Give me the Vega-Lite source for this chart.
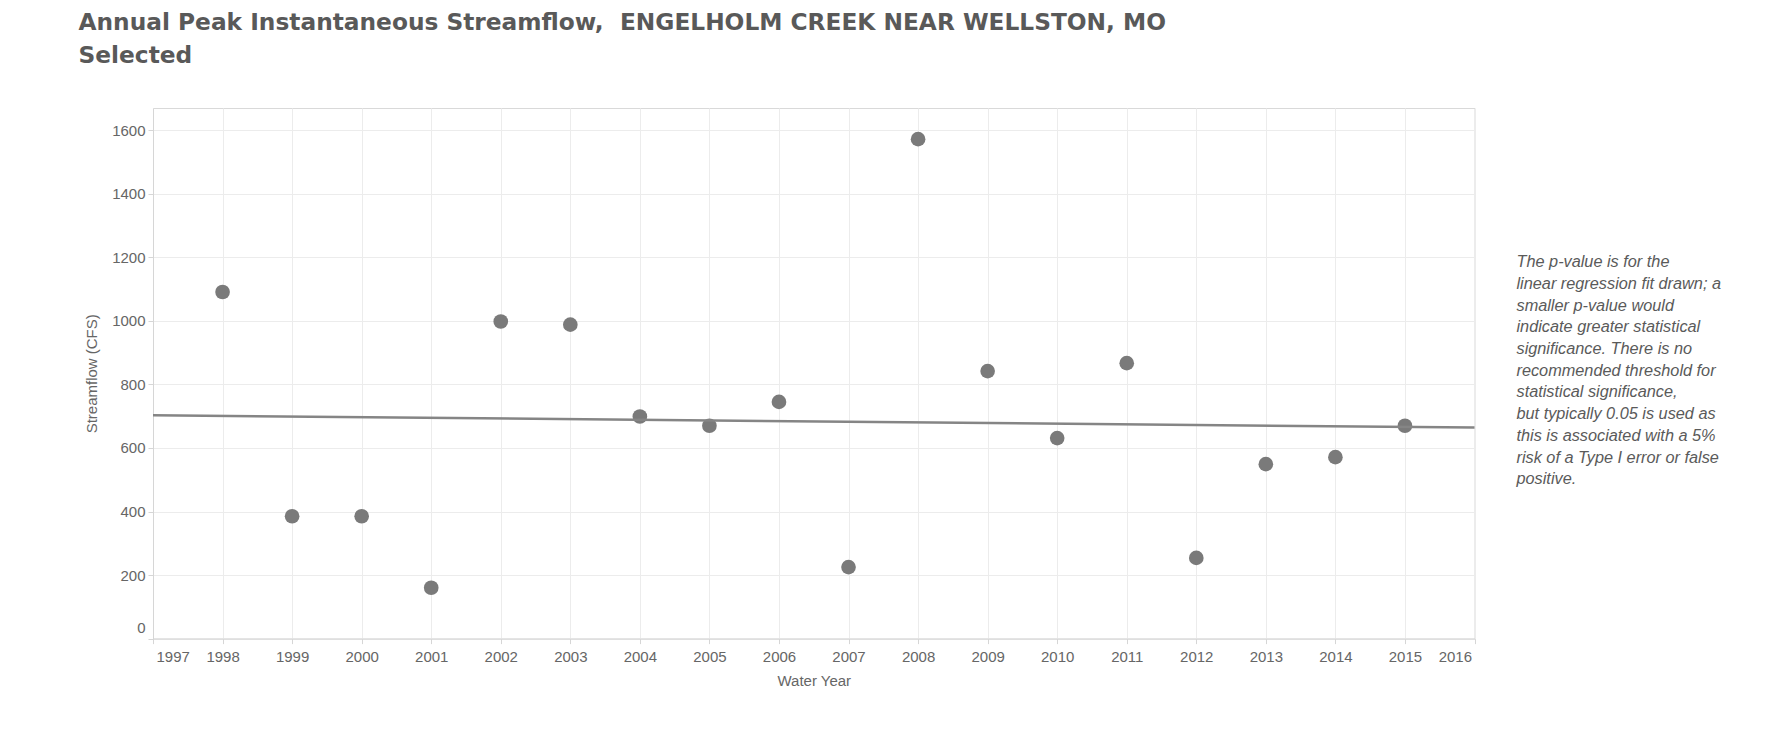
{
  "$schema": "https://vega.github.io/schema/vega-lite/v6.json",
  "background": "white",
  "padding": {"left": 78, "top": 10, "right": 0, "bottom": 0},
  "datasets": {
    "peaks": [
      {"year": 1998, "peak": 1091},
      {"year": 1999, "peak": 385},
      {"year": 2000, "peak": 385},
      {"year": 2001, "peak": 160},
      {"year": 2002, "peak": 998},
      {"year": 2003, "peak": 988},
      {"year": 2004, "peak": 699},
      {"year": 2005, "peak": 670},
      {"year": 2006, "peak": 745},
      {"year": 2007, "peak": 225},
      {"year": 2008, "peak": 1572},
      {"year": 2009, "peak": 842},
      {"year": 2010, "peak": 631},
      {"year": 2011, "peak": 867},
      {"year": 2012, "peak": 254},
      {"year": 2013, "peak": 549},
      {"year": 2014, "peak": 571},
      {"year": 2015, "peak": 670}
    ],
    "note": [
      {"text": "The p-value is for the\nlinear regression fit drawn; a\nsmaller p-value would\nindicate greater statistical\nsignificance. There is no\nrecommended threshold for\nstatistical significance,\nbut typically 0.05 is used as\nthis is associated with a 5%\nrisk of a Type I error or false\npositive."}
    ]
  },
  "spacing": 10,
  "hconcat": [
    {
      "title": {
        "text": ["Annual Peak Instantaneous Streamflow,\u00a0 ENGELHOLM CREEK NEAR WELLSTON, MO", "Selected"],
        "anchor": "start",
        "frame": "group",
        "dx": -74.5,
        "font": "DejaVu Sans",
        "fontWeight": "bold",
        "fontSize": 23.3,
        "lineHeight": 33,
        "color": "#595959",
        "offset": 40
      },
      "width": 1321.5,
      "height": 530.6,
      "data": {"name": "peaks"},
      "layer": [
        {
          "mark": {"type": "point", "filled": true, "size": 215, "color": "#7a7a7a", "opacity": 1},
          "encoding": {
            "x": {
              "field": "year",
              "type": "quantitative",
              "scale": {"domain": [1997, 2016], "nice": false, "zero": false},
              "axis": {
                "title": "Water Year",
                "values": [1997, 1998, 1999, 2000, 2001, 2002, 2003, 2004, 2005, 2006, 2007, 2008, 2009, 2010, 2011, 2012, 2013, 2014, 2015, 2016],
                "format": "d",
                "labelOverlap": false,
                "labelPadding": 6,
                "titlePadding": 9
              }
            },
            "y": {
              "field": "peak",
              "type": "quantitative",
              "scale": {"domain": [0, 1670], "nice": false},
              "axis": {
                "title": "Streamflow (CFS)",
                "values": [0, 200, 400, 600, 800, 1000, 1200, 1400, 1600],
                "format": "d",
                "titlePadding": 12
              }
            }
          }
        },
        {
          "transform": [{"regression": "peak", "on": "year", "extent": [1997, 2016]}],
          "mark": {"type": "line", "color": "#858585", "strokeWidth": 2.5},
          "encoding": {
            "x": {"field": "year", "type": "quantitative"},
            "y": {"field": "peak", "type": "quantitative"}
          }
        }
      ]
    },
    {
      "width": 53,
      "height": 530.6,
      "view": {"stroke": null},
      "data": {"name": "note"},
      "mark": {
        "type": "text",
        "align": "left",
        "baseline": "middle",
        "lineBreak": "\n",
        "dy": -111,
        "font": "Liberation Sans",
        "fontStyle": "italic",
        "fontSize": 16.3,
        "lineHeight": 21.7,
        "color": "#5a5a5a"
      },
      "encoding": {"text": {"field": "text", "type": "nominal"}}
    }
  ],
  "config": {
    "view": {"stroke": "#d9d9d9", "strokeWidth": 1},
    "axis": {
      "grid": true,
      "gridColor": "#ececec",
      "gridWidth": 1,
      "domainColor": "#d6d6d6",
      "tickColor": "#d6d6d6",
      "tickSize": 5,
      "labelFont": "Liberation Sans",
      "labelFontSize": 15,
      "labelColor": "#666666",
      "labelPadding": 3,
      "labelFlush": true,
      "labelFlushOffset": -3,
      "titleFont": "Liberation Sans",
      "titleFontSize": 15,
      "titleFontWeight": "normal",
      "titleColor": "#666666",
      "titlePadding": 8
    }
  }
}
